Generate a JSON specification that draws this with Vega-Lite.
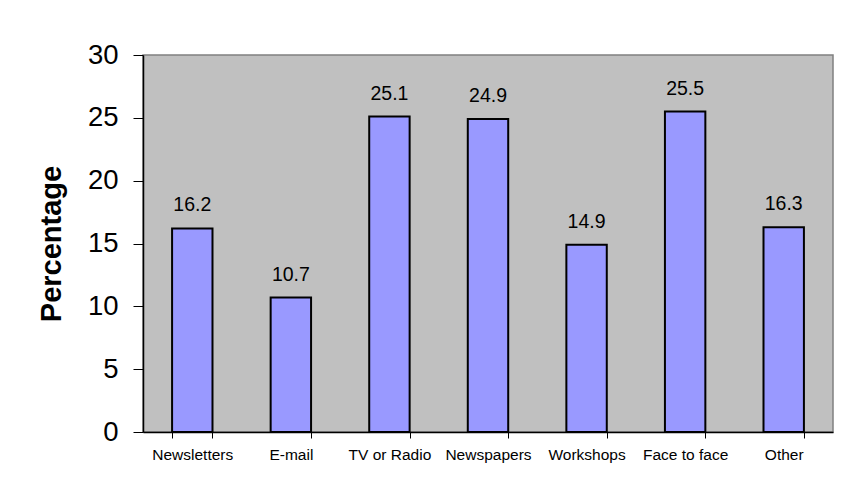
{
  "$schema": "https://vega.github.io/schema/vega-lite/v6.json",
  "width": 690,
  "height": 377,
  "autosize": {"type": "none"},
  "padding": {"left": 143, "top": 55, "right": 8, "bottom": 55},
  "background": "white",
  "config": {
    "font": "Liberation Sans",
    "view": {"fill": "#C0C0C0", "stroke": "#808080", "strokeWidth": 1.5}
  },
  "data": {
    "values": [
      {"category": "Newsletters", "pct": 16.2},
      {"category": "E-mail", "pct": 10.7},
      {"category": "TV or Radio", "pct": 25.1},
      {"category": "Newspapers", "pct": 24.9},
      {"category": "Workshops", "pct": 14.9},
      {"category": "Face to face", "pct": 25.5},
      {"category": "Other", "pct": 16.3}
    ]
  },
  "encoding": {
    "x": {
      "field": "category",
      "type": "nominal",
      "sort": null,
      "scale": {"paddingInner": 0.59, "paddingOuter": 0.295},
      "axis": {
        "title": null,
        "labelAngle": 0,
        "labelFontSize": 15.5,
        "labelColor": "black",
        "labelPadding": 9,
        "tickBand": "extent",
        "tickSize": 6,
        "tickColor": "black",
        "domainColor": "black",
        "domainWidth": 1.5,
        "labelFont": "Liberation Sans"
      }
    },
    "y": {
      "field": "pct",
      "type": "quantitative",
      "scale": {"domain": [0, 30], "nice": false},
      "axis": {
        "title": "Percentage",
        "titleFontSize": 29,
        "titleFontWeight": "bold",
        "titleColor": "black",
        "titlePadding": 21,
        "titleFont": "Liberation Sans",
        "values": [0, 5, 10, 15, 20, 25, 30],
        "labelFontSize": 27.5,
        "labelColor": "black",
        "labelFont": "Liberation Sans",
        "labelPadding": 15,
        "tickSize": 10,
        "tickColor": "black",
        "domainColor": "black",
        "domainWidth": 1.5,
        "grid": false
      }
    }
  },
  "layer": [
    {
      "mark": {"type": "bar", "color": "#9999FF", "stroke": "black", "strokeWidth": 2}
    },
    {
      "mark": {"type": "text", "dy": -17, "baseline": "alphabetic", "fontSize": 19.5, "color": "black", "font": "Liberation Sans"},
      "encoding": {"text": {"field": "pct", "type": "quantitative", "format": ".1f"}}
    }
  ]
}
